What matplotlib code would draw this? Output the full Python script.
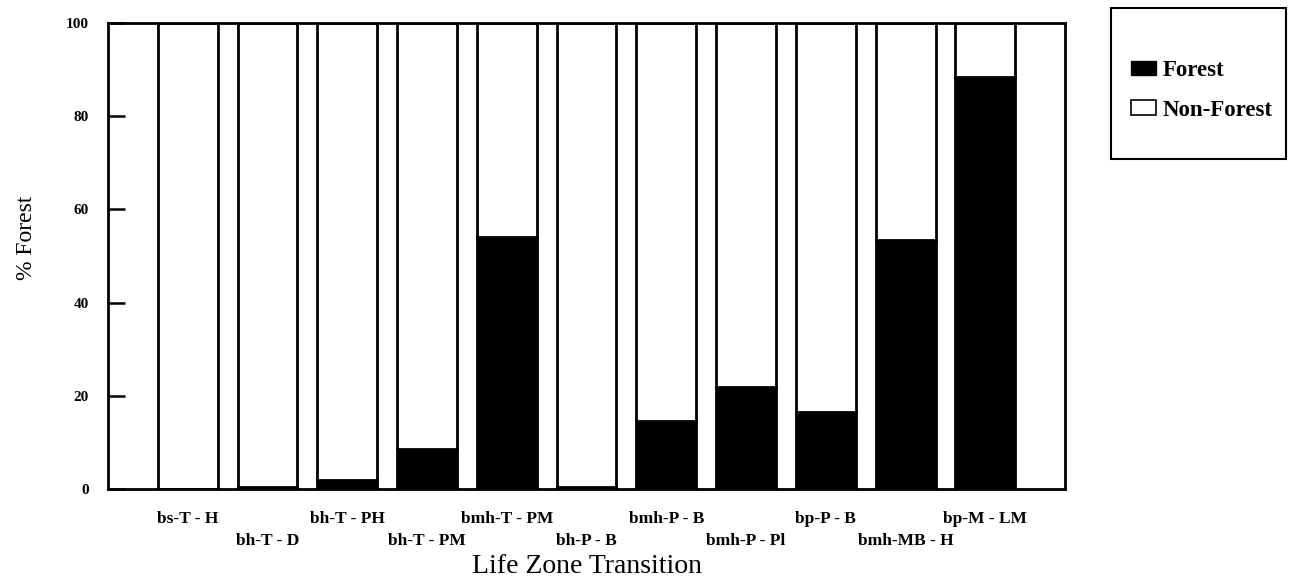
import matplotlib
matplotlib.use("Agg")
import matplotlib.pyplot as plt
import matplotlib.transforms as mtransforms
from matplotlib.patches import Patch, Rectangle

plt.rcParams['font.family'] = ['Liberation Serif', 'DejaVu Serif']

zones = ["bs-T - H", "bh-T - D", "bh-T - PH", "bh-T - PM", "bmh-T - PM",
         "bh-P - B", "bmh-P - B", "bmh-P - Pl", "bp-P - B", "bmh-MB - H",
         "bp-M - LM"]
forest = [0, 0.5, 2, 8.5, 54, 0.5, 14.5, 22, 16.5, 53.5, 88.5]
non_forest = [100, 99.5, 98, 91.5, 46, 99.5, 85.5, 78, 83.5, 46.5, 11.5]
yticks = [0, 20, 40, 60, 80, 100]

fig = plt.figure(figsize=(12.9, 5.83), dpi=100)
ax = fig.add_axes([0.0837, 0.1612, 0.742, 0.7993])

x = list(range(len(zones)))
ax.bar(x, forest, width=0.75, color='black', edgecolor='black', linewidth=2)
ax.bar(x, non_forest, bottom=forest, width=0.75, color='white',
       edgecolor='black', linewidth=2)

ax.set_xlim(-1, 11)
ax.set_ylim(0, 100)
ax.set_yticks(yticks)
ax.set_yticklabels([str(v) for v in yticks], fontsize=11, fontweight='bold')

ax.set_xticks(x)
ax.set_xticklabels(zones, fontsize=12.5, fontweight='bold')
ax.tick_params(axis='x', length=0, pad=16)
ax.tick_params(axis='y', direction='in', length=12, width=1.8, pad=14)

# staggered labels: odd ones drop to a second row
shift = mtransforms.ScaledTranslation(0, -0.215, fig.dpi_scale_trans)
for i, lbl in enumerate(ax.get_xticklabels()):
    if i % 2:
        lbl.set_transform(lbl.get_transform() + shift)

for s in ax.spines.values():
    s.set_linewidth(2)

ax.set_xlabel('Life Zone Transition', fontsize=20)
ax.xaxis.set_label_coords(0.5, -0.14)
ax.set_ylabel('% Forest', fontsize=17)
ax.yaxis.set_label_coords(-0.074, 0.54)

# legend box in the top right corner
fig.patches.append(Rectangle((0.861, 0.728), 0.136, 0.258, transform=fig.transFigure,
                             fill=False, edgecolor='black', linewidth=1.5))
handles = [Patch(facecolor='black', edgecolor='black', label='Forest'),
           Patch(facecolor='white', edgecolor='black', linewidth=1.2, label='Non-Forest')]
fig.legend(handles=handles, loc='center left', bbox_to_anchor=(0.8605, 0.845),
           frameon=False, handlelength=1.1, handleheight=0.6,
           handletextpad=0.3, labelspacing=0.8,
           prop={'size': 16.5, 'weight': 'bold'})

fig.savefig('out.png', dpi=100)
